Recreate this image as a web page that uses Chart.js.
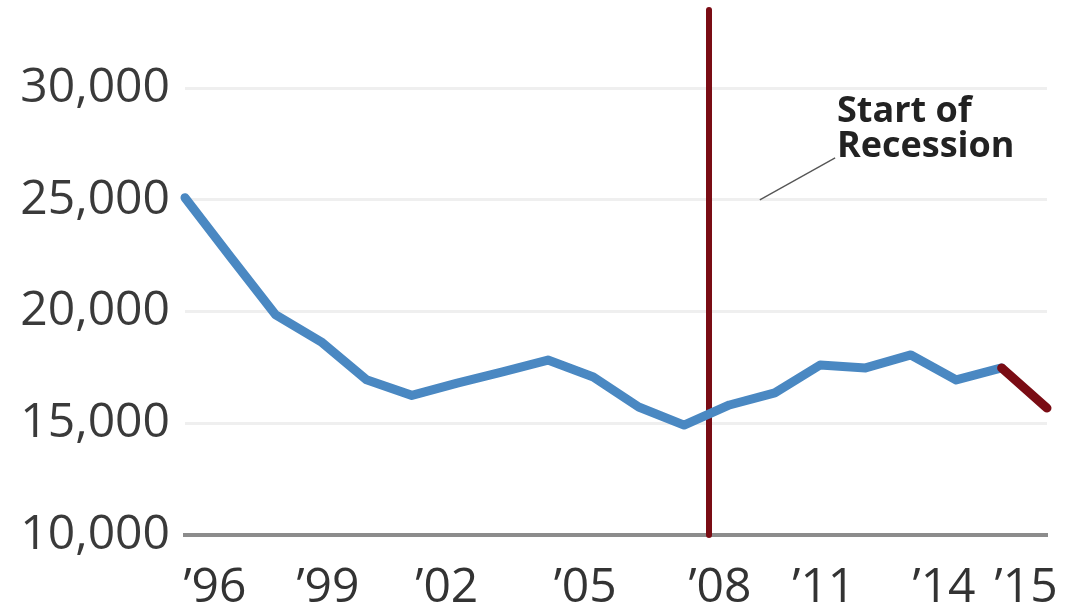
<!DOCTYPE html>
<html>
<head>
<meta charset="utf-8">
<script src="https://cdn.jsdelivr.net/npm/chart.js@4/dist/chart.umd.min.js"></script>
<style>
  html, body { margin: 0; padding: 0; background: #fff; }
  #wrap { width: 1066px; height: 610px; }
</style>
</head>
<body>
<div id="wrap"><canvas id="chart" width="1066" height="610"></canvas></div>
<script>
// values
const years = [1996, 1997, 1998, 1999, 2000, 2001, 2002, 2003, 2004, 2005,
  2006, 2007, 2008, 2009, 2010, 2011, 2012, 2013, 2014, 2015];
const totals = [25100, 22450, 19850, 18650, 16950, 16250, 16800, 17300, 17830, 17070,
  15730, 14920, 15820, 16360, 17610, 17480, 18060, 16940, 17480, 15680];

const yTicks = [10000, 15000, 20000, 25000, 30000];
// the source puts its year labels a little off the data years
const xTickValues = [1996.66, 1999.15, 2001.77, 2004.82, 2007.79, 2010.08, 2012.73, 2014.54];
const xTickLabels = ["\u201996", "\u201999", "\u201902", "\u201905", "\u201908", "\u201911", "\u201914", "\u201915"];

const recessionYear = 2007.55;
const noteLines = ["Start of", "Recession"];

const blue = "#4a88c2";
const darkRed = "#7a0c14";

const points = years.map((y, i) => ({ x: y, y: totals[i] }));

const notePlugin = {
  id: "note",
  afterDatasetsDraw(chart) {
    const ctx = chart.ctx;
    const xs = chart.scales.x;
    const ys = chart.scales.y;
    ctx.save();
    // leader line
    ctx.strokeStyle = "#555";
    ctx.lineWidth = 1.3;
    ctx.beginPath();
    ctx.moveTo(xs.getPixelForValue(2008.67), ys.getPixelForValue(25000));
    ctx.lineTo(xs.getPixelForValue(2010.33), ys.getPixelForValue(26880));
    ctx.stroke();
    // label
    ctx.fillStyle = "#222";
    ctx.font = "bold 36px 'Open Sans'";
    ctx.textAlign = "left";
    ctx.textBaseline = "alphabetic";
    const tx = xs.getPixelForValue(2010.37);
    const ty = ys.getPixelForValue(28490);
    noteLines.forEach((t, i) => ctx.fillText(t, tx, ty + i * 35));
    ctx.restore();
  },
};

new Chart(document.getElementById("chart"), {
  type: "line",
  data: {
    datasets: [
      {
        data: points,
        borderWidth: 9,
        borderColor: blue,
        borderCapStyle: "round",
        borderJoinStyle: "round",
        pointRadius: 0,
        tension: 0,
        clip: false,
        segment: {
          borderColor: (c) => (c.p0DataIndex === years.length - 2 ? darkRed : blue),
        },
      },
      {
        data: [
          { x: recessionYear, y: 10000 },
          { x: recessionYear, y: 33500 },
        ],
        borderWidth: 6,
        borderColor: darkRed,
        borderCapStyle: "round",
        pointRadius: 0,
        clip: false,
      },
    ],
  },
  options: {
    responsive: false,
    animation: false,
    devicePixelRatio: 1,
    layout: { padding: { top: 10, right: 19, left: 0, bottom: 0 } },
    plugins: { legend: { display: false }, tooltip: { enabled: false } },
    scales: {
      x: {
        type: "linear",
        min: 1996,
        max: 2015,
        grid: { display: false, drawTicks: false },
        border: { display: true, color: "#8c8c8c", width: 4 },
        afterBuildTicks: (s) => {
          s.ticks = xTickValues.map((v) => ({ value: v }));
        },
        afterFit: (s) => {
          s.height = 75;
          s.paddingLeft = 0;
          s.paddingRight = 0;
        },
        ticks: {
          autoSkip: false,
          maxRotation: 0,
          padding: 25,
          color: "#333",
          font: { family: "'Open Sans'", size: 48 },
          callback: (v, i) => xTickLabels[i],
        },
      },
      y: {
        min: 10000,
        max: 33500,
        grid: {
          color: (c) => (c.tick && c.tick.value === 10000 ? "rgba(0,0,0,0)" : "#efefef"),
          lineWidth: 3,
          drawTicks: false,
        },
        border: { display: false },
        afterBuildTicks: (s) => {
          s.ticks = yTicks.map((v) => ({ value: v }));
        },
        afterFit: (s) => {
          s.width = 185;
          s.paddingTop = 0;
          s.paddingBottom = 0;
        },
        ticks: {
          padding: 15,
          color: "#3a3a3a",
          font: { family: "'Open Sans'", size: 48 },
          callback: (v) => v.toLocaleString("en-US"),
        },
      },
    },
  },
  plugins: [notePlugin],
});
</script>
</body>
</html>
